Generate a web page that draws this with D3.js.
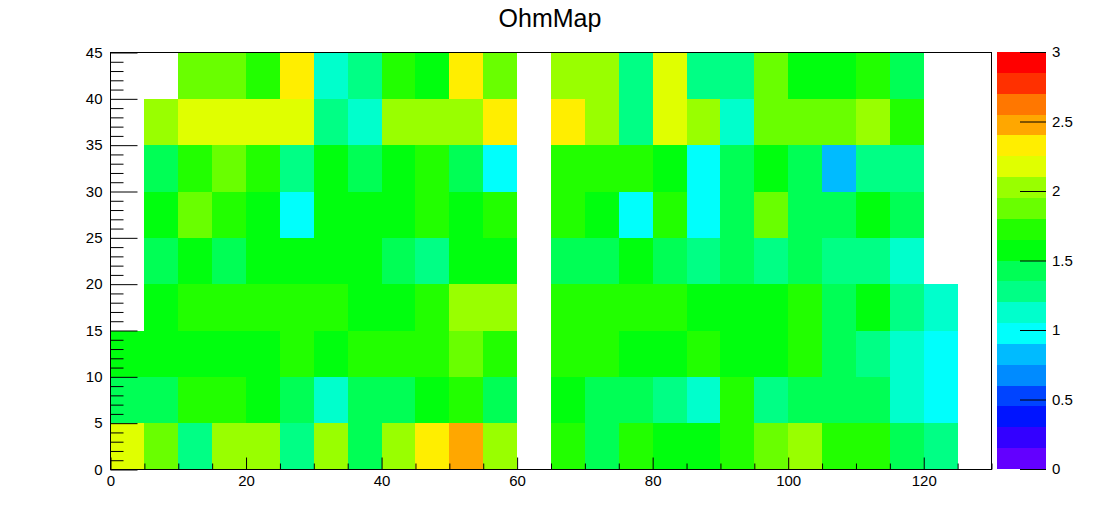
<!DOCTYPE html>
<html>
<head>
<meta charset="utf-8">
<script src="https://cdn.jsdelivr.net/npm/d3@7"></script>
<style>
  html, body { margin: 0; padding: 0; background: #fff; }
  svg { display: block; font-family: "Liberation Sans", Arial, Helvetica, sans-serif; }
</style>
</head>
<body>
<svg id="chart" width="1102" height="522"></svg>
<script>
// ---- data ----
const title = "OhmMap";
const xBinWidth = 5;
const yBinWidth = 5;
const xEdges = d3.range(0, 131, 5);        // 0..130
const yEdges = d3.range(0, 46, 5);         // 0..45
const xTickValues = [0, 20, 40, 60, 80, 100, 120];
const yTickValues = [0, 5, 10, 15, 20, 25, 30, 35, 40, 45];
const zTickValues = [0, 0.5, 1, 1.5, 2, 2.5, 3];
const zMin = 0, zMax = 3, nLevels = 20;

// cell values, one array per y bin (row 0 = y 0..5), 26 x bins; null = empty
const row0 = [2.17,1.87,1.28,2.02,2.02,1.28,2.02,1.42,2.02,2.32,2.47,2.02,null,1.72,1.42,1.72,1.57,1.57,1.72,1.87,2.02,1.72,1.72,1.42,1.28,null];
const row1 = [1.42,1.42,1.72,1.72,1.57,1.42,1.12,1.42,1.42,1.57,1.72,1.42,null,1.57,1.42,1.42,1.28,1.12,1.72,1.28,1.42,1.42,1.42,1.12,0.97,null];
const row2 = [1.57,1.57,1.57,1.57,1.57,1.72,1.57,1.72,1.72,1.72,1.87,1.72,null,1.72,1.72,1.57,1.57,1.72,1.57,1.57,1.72,1.42,1.28,1.12,0.97,null];
const row3 = [null,1.57,1.72,1.72,1.72,1.72,1.72,1.57,1.57,1.72,2.02,2.02,null,1.72,1.72,1.72,1.72,1.57,1.57,1.57,1.72,1.42,1.57,1.28,1.12,null];
const row4 = [null,1.42,1.57,1.42,1.57,1.57,1.57,1.57,1.42,1.28,1.57,1.57,null,1.42,1.42,1.57,1.42,1.28,1.42,1.28,1.42,1.28,1.28,1.12,null,null];
const row5 = [null,1.57,1.87,1.72,1.57,0.97,1.57,1.57,1.57,1.72,1.57,1.72,null,1.72,1.57,0.97,1.72,0.97,1.42,1.87,1.42,1.42,1.57,1.42,null,null];
const row6 = [null,1.42,1.72,1.87,1.72,1.28,1.57,1.42,1.57,1.72,1.42,0.97,null,1.72,1.72,1.72,1.57,0.97,1.42,1.57,1.42,0.82,1.28,1.28,null,null];
const row7 = [null,2.02,2.17,2.17,2.17,2.17,1.28,1.12,2.02,2.02,2.02,2.32,null,2.32,2.02,1.28,2.17,2.02,1.12,1.87,1.87,1.87,2.02,1.72,null,null];
const row8 = [null,null,1.87,1.87,1.72,2.32,1.12,1.28,1.72,1.57,2.32,1.87,null,2.02,2.02,1.28,2.17,1.28,1.28,1.87,1.57,1.57,1.72,1.42,null,null];
const rows = [row0, row1, row2, row3, row4, row5, row6, row7, row8];

// ROOT "pretty" palette (violet -> red), 20 contour levels
const paletteColors = ["#6300FF","#3300FF","#0014FF","#0044FF","#008BFF","#00BBFF","#00FFFC","#00FFCC","#00FF85","#00FF55",
                       "#00FF0E","#22FF00","#69FF00","#99FF00","#E0FF00","#FFEE00","#FFA700","#FF7700","#FF3000","#FF0000"];

// ---- layout ----
const svg = d3.select("#chart");
const frame = { left: 110.5, right: 991.5, top: 52.5, bottom: 469.5 };
const pal = { left: 997, right: 1046, top: 52, bottom: 469 };
const fontSize = 15;

const x = d3.scaleLinear().domain([0, 130]).range([frame.left, frame.right]);
const y = d3.scaleLinear().domain([0, 45]).range([frame.bottom, frame.top]);
const color = d3.scaleQuantize().domain([zMin, zMax]).range(paletteColors);

// cells
const cells = [];
rows.forEach((r, j) => r.forEach((v, i) => {
  if (v !== null) cells.push({ x0: xEdges[i], x1: xEdges[i] + xBinWidth, y0: yEdges[j], y1: yEdges[j] + yBinWidth, v });
}));
svg.append("g").attr("shape-rendering", "crispEdges")
  .selectAll("rect").data(cells).join("rect")
  .attr("x", d => x(d.x0))
  .attr("y", d => y(d.y1))
  .attr("width", d => x(d.x1) - x(d.x0))
  .attr("height", d => y(d.y0) - y(d.y1))
  .attr("fill", d => color(d.v));

// axes
function styleAxis(g) {
  g.select(".domain").remove();
  g.selectAll("line").attr("stroke", "#000").attr("stroke-width", 1);
  g.selectAll("text").attr("font-size", fontSize).attr("fill", "#000")
    .attr("font-family", "'Liberation Sans', Arial, Helvetica, sans-serif");
}
// x major
svg.append("g").attr("transform", `translate(0,${frame.bottom})`)
  .call(d3.axisBottom(x).tickValues(xTickValues).tickSize(-12).tickPadding(6).tickFormat(d3.format("d")))
  .call(styleAxis);
// x minor
svg.append("g").attr("transform", `translate(0,${frame.bottom})`)
  .call(d3.axisBottom(x).tickValues(d3.range(0, 131, 5).filter(v => v % 20 !== 0)).tickSize(-6).tickFormat(""))
  .call(styleAxis);
// y major
svg.append("g").attr("transform", `translate(${frame.left},0)`)
  .call(d3.axisLeft(y).tickValues(yTickValues).tickSize(-27).tickPadding(8).tickFormat(d3.format("d")))
  .call(styleAxis);
// y minor
svg.append("g").attr("transform", `translate(${frame.left},0)`)
  .call(d3.axisLeft(y).tickValues(d3.range(0, 46, 1).filter(v => v % 5 !== 0)).tickSize(-13).tickFormat(""))
  .call(styleAxis);

// frame
svg.append("rect")
  .attr("x", frame.left).attr("y", frame.top)
  .attr("width", frame.right - frame.left).attr("height", frame.bottom - frame.top)
  .attr("fill", "none").attr("stroke", "#000").attr("stroke-width", 1);

// palette
const z = d3.scaleLinear().domain([zMin, zMax]).range([pal.bottom, pal.top]);
const levels = d3.range(nLevels).map(k => zMin + k * (zMax - zMin) / nLevels);
const step = (zMax - zMin) / nLevels;
svg.append("g").attr("shape-rendering", "crispEdges")
  .selectAll("rect").data(levels).join("rect")
  .attr("x", pal.left)
  .attr("y", d => z(d + step))
  .attr("width", pal.right - pal.left)
  .attr("height", d => z(d) - z(d + step))
  .attr("fill", d => color(d + step / 2));

svg.append("g").attr("transform", `translate(${pal.right},0)`)
  .call(d3.axisRight(z).tickValues(zTickValues).tickSize(-26).tickPadding(6).tickFormat(d => String(d)))
  .call(styleAxis);

// title
svg.append("text")
  .attr("x", 550).attr("y", 27)
  .attr("text-anchor", "middle")
  .attr("font-size", 25)
  .attr("fill", "#000")
  .text(title);
</script>
</body>
</html>
